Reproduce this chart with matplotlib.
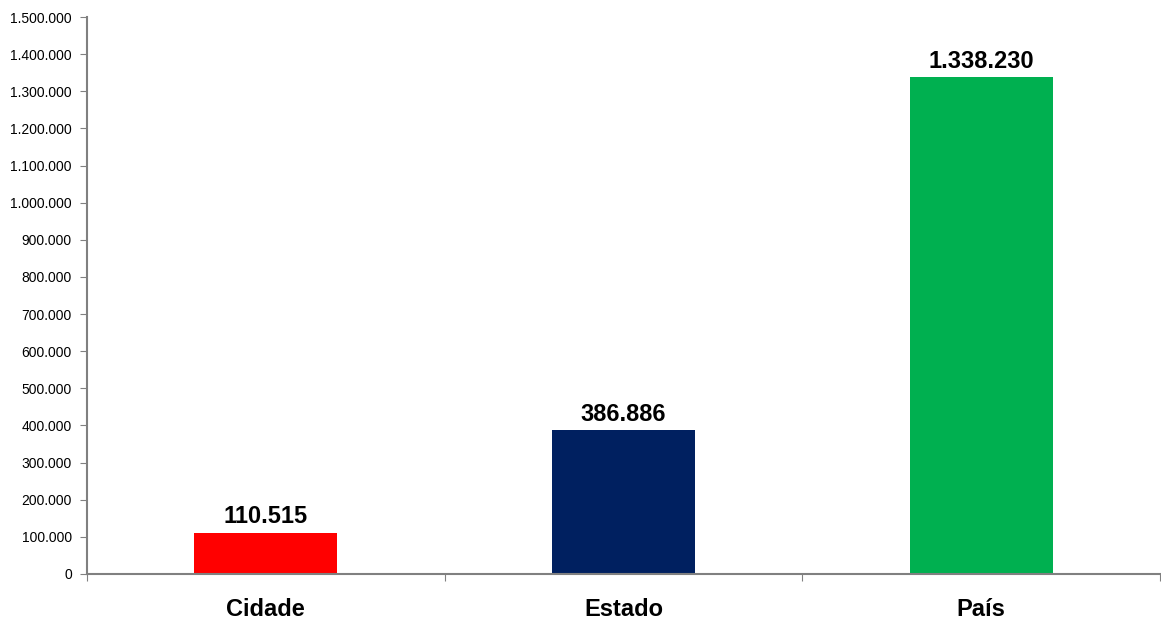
import matplotlib.pyplot as plt
from matplotlib.ticker import FuncFormatter, MultipleLocator

plt.rcParams['font.family'] = ['Liberation Sans', 'DejaVu Sans']

categorias = ["Cidade", "Estado", "País"]
valores = [110515, 386886, 1338230]
cores = ["#FF0000", "#002060", "#00B050"]


def fmt_br(v, pos=None):
    # separador de milhar com ponto
    return f"{int(round(v)):,}".replace(",", ".")


fig = plt.figure(figsize=(11.61, 6.21), dpi=100)
ax = fig.add_axes([0.075, 0.0757, 0.924, 0.8969])

x = range(len(categorias))
ax.bar(x, valores, width=0.4, color=cores, zorder=2)

for xi, v in zip(x, valores):
    ax.text(xi, v + 12000, fmt_br(v), ha="center", va="bottom",
            fontsize=17, fontweight="bold", color="black")

ax.set_xlim(-0.5, len(categorias) - 0.5)
ax.set_ylim(0, 1500000)
ax.yaxis.set_major_locator(MultipleLocator(100000))
ax.yaxis.set_major_formatter(FuncFormatter(fmt_br))

# ticks do eixo x entre as categorias, rótulos no centro
ax.set_xticks([i - 0.5 for i in range(len(categorias) + 1)])
ax.set_xticklabels([])
ax.set_xticks(list(x), minor=True)
ax.set_xticklabels(categorias, minor=True, fontsize=17, fontweight="bold")
ax.tick_params(axis="x", which="minor", length=0, pad=17)
ax.tick_params(axis="x", which="major", length=5, color="#808080", direction="out")
ax.tick_params(axis="y", length=5, color="#808080", direction="out",
               labelsize=10, pad=6)

for s in ["top", "right"]:
    ax.spines[s].set_visible(False)
for s in ["left", "bottom"]:
    ax.spines[s].set_color("#808080")
    ax.spines[s].set_linewidth(1.5)

fig.savefig("out.png", dpi=100)
